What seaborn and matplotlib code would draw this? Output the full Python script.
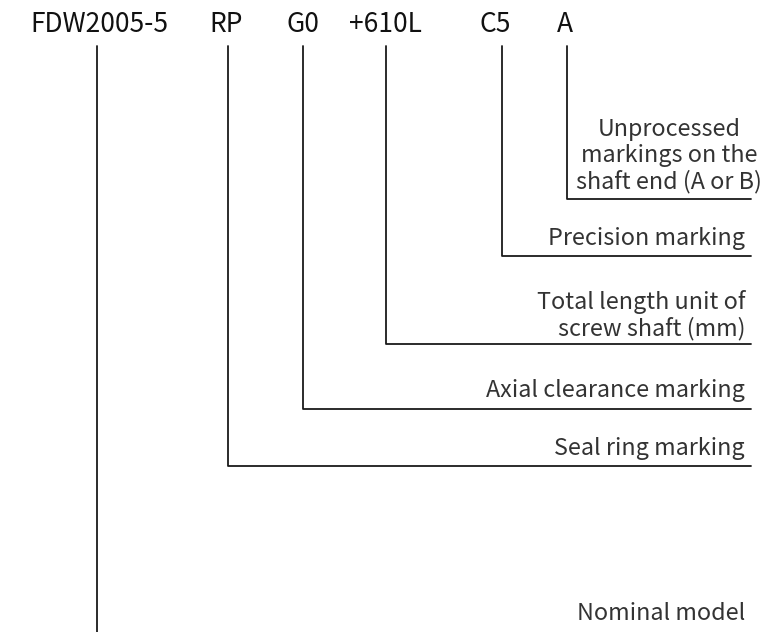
import matplotlib
matplotlib.use("Agg")
import matplotlib.pyplot as plt
import seaborn as sns
import pandas as pd

# ---- content ----
codes = ["FDW2005-5", "RP", "G0", "+610L", "C5", "A"]
descriptions = [
    "Nominal model",
    "Seal ring marking",
    "Axial clearance marking",
    "Total length unit of\nscrew shaft (mm)",
    "Precision marking",
    "Unprocessed\nmarkings on the\nshaft end (A or B)",
]

# ---- layout (pixel coordinates, y downward) ----
code_x = [99, 226, 303, 385, 495, 565]
line_x = [97, 228, 303, 386, 502, 567]
elbow_y = [632, 466, 409, 344, 256, 199]
label_y = [614, 449, 391, 315, 239, 156]
label_x = [745, 745, 745, 745, 745, 669]
label_ha = ["right", "right", "right", "right", "right", "center"]
line_top = 46
line_right = 751

sns.set_theme(style="white")
plt.rcParams["font.family"] = ["Noto Sans CJK SC", "DejaVu Sans"]

fig = plt.figure(figsize=(7.72, 6.32), dpi=100)
ax = fig.add_axes([0, 0, 1, 1])

rows = []
for i, (lx, ey) in enumerate(zip(line_x, elbow_y)):
    pts = [(lx, line_top), (lx, ey)]
    if i > 0:
        pts.append((line_right, ey))
    for k, (x, y) in enumerate(pts):
        rows.append({"seg": i, "order": k, "x": x, "y": y})
df = pd.DataFrame(rows)

sns.lineplot(data=df, x="x", y="y", units="seg", estimator=None, sort=False,
             color="#1a1a1a", linewidth=1.3, ax=ax, legend=False)

for c, cx in zip(codes, code_x):
    ax.text(cx, 24, c, ha="center", va="center", fontsize=19, color="#111111")

for d, lx, ly, ha in zip(descriptions, label_x, label_y, label_ha):
    ax.text(lx, ly, d, ha=ha, va="center", fontsize=16.8, color="#333333",
            linespacing=1.15, multialignment=ha)

ax.set_xlim(0, 772)
ax.set_ylim(632, 0)
ax.set_axis_off()
fig.savefig("out.png", dpi=100, facecolor="white")
